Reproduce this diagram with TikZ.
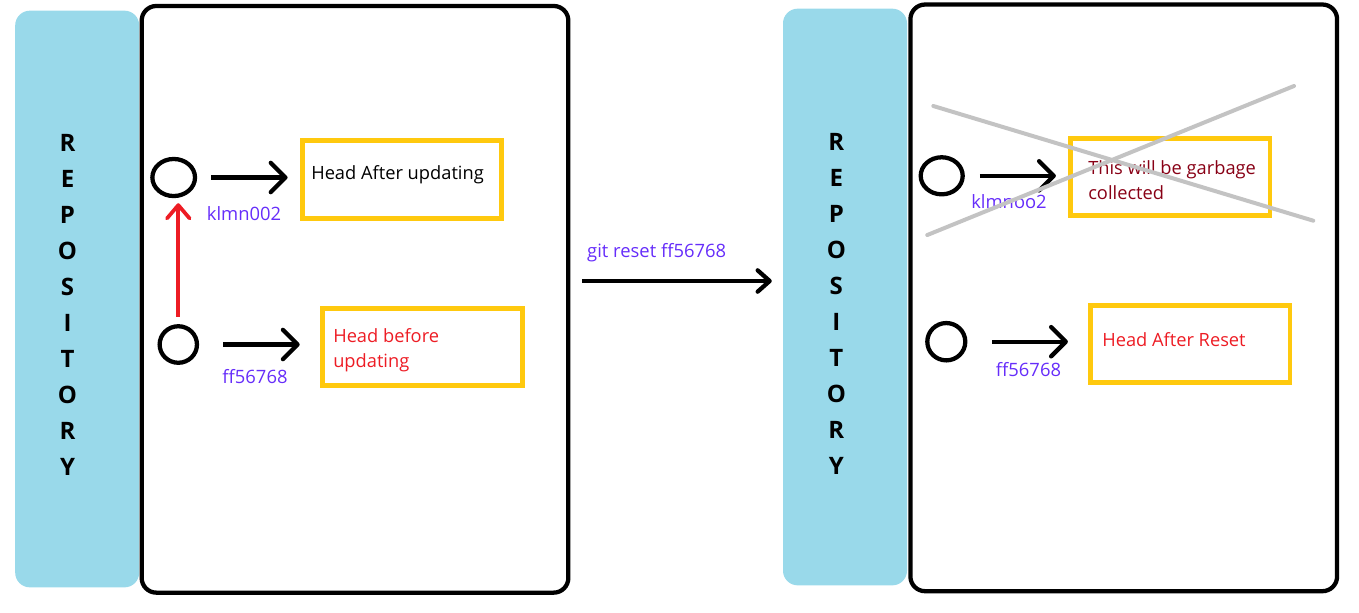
\documentclass[tikz,border=0pt]{standalone}
\usepackage{fontspec}
\setmainfont{Open Sans}
\usepackage{tikz}
\usetikzlibrary{arrows.meta}
\usetikzlibrary{shapes.geometric}
\definecolor{repoblue}{RGB}{153,217,234}
\definecolor{boxgold}{RGB}{255,201,14}
\definecolor{hashblue}{RGB}{102,45,250}
\definecolor{headred}{RGB}{237,28,36}
\definecolor{gcred}{RGB}{136,0,21}
\definecolor{crossgray}{RGB}{195,195,195}
\tikzset{every edge/.style={draw, line width=3.2pt}}
\tikzset{
  repo/.style={rectangle, fill=repoblue, rounded corners=11pt, inner sep=0pt,
    minimum width=93pt, minimum height=432.5pt},
  letters/.style={align=center, font=\fontsize{18}{27}\selectfont\bfseries},
  panel/.style={draw, line width=3.2pt, rounded corners=11pt, inner sep=0pt,
    minimum width=320pt, minimum height=440pt},
  commit/.style={draw, ellipse, line width=3.2pt, inner sep=0pt},
  headbox/.style={draw=boxgold, line width=3.7pt, inner sep=0pt,
    minimum width=149.5pt, minimum height=58pt},
  hash/.style={anchor=base, text=hashblue, inner sep=0pt, font=\fontsize{13.8}{17}\selectfont},
  note/.style={anchor=base west, align=left, inner sep=0pt, font=\fontsize{13.7}{18.75}\selectfont},
  ptr/.style={-{Straight Barb[length=11pt,width=22pt,round]}},
  upptr/.style={draw=headred, line width=2.8pt, -{Straight Barb[length=10pt,width=17pt,round]}},
  cross/.style={draw=crossgray, line width=3pt, line cap=round},
}

\begin{document}
\begin{tikzpicture}[x=0.75pt, y=-0.75pt]
  \useasboundingbox (0,0) rectangle (1359,612);

  \node[repo]   at (77.2, 299)     (repoL)    {};
  \node[letters] at (67.5, 304.7)  (repoLtxt) {R\\E\\P\\O\\S\\I\\T\\O\\R\\Y};
  \node[panel]  at (355, 299.3)    (panelL)   {};
  \node[repo]   at (845, 297)      (repoR)    {};
  \node[letters] at (836.3, 304)   (repoRtxt) {R\\E\\P\\O\\S\\I\\T\\O\\R\\Y};
  \node[panel]  at (1123.75, 297.85) (panelR) {};

  \node[commit, minimum width=32pt, minimum height=27.8pt]   at (173.7, 177.5) (newL) {};
  \node[commit, minimum width=28pt, minimum height=27.4pt]   at (178.3, 344.5) (oldL) {};
  \node[commit, minimum width=31.5pt, minimum height=27.8pt] at (941.7, 175.8) (newR) {};
  \node[commit, minimum width=28.5pt, minimum height=28pt]   at (946.3, 341.7) (oldR) {};

  \node[headbox]                      at (402, 179.5)    (afterL)  {};
  \node[headbox, minimum height=57.75pt] at (422.5, 346.7) (beforeL) {};
  \node[headbox]                      at (1170.3, 177.2) (gcR)     {};
  \node[headbox, minimum height=57.5pt] at (1190.3, 344.2) (resetR) {};

  % two-line notes sit on their last baseline
  \node[note]                at (311, 179)  (afterTxt)  {Head After updating};
  \node[note, text=headred]  at (333, 367)  (beforeTxt) {Head before\\updating};
  \node[note, text=gcred]    at (1088, 199) (gcTxt)     {This will be garbage\\collected};
  \node[note, text=headred]  at (1102, 346) (resetTxt)  {Head After Reset};

  \node[hash] at (244, 220)    (newLhash) {klmn002};
  \node[hash] at (255, 383)    (oldLhash) {ff56768};
  \node[hash] at (1009, 208)   (newRhash) {klmnoo2};
  \node[hash] at (1028.5, 376) (oldRhash) {ff56768};
  \node[hash] at (656.7, 257)  (resetCmd) {git reset ff56768};

  \coordinate (resetY) at (0, 281);

  \draw (newL) edge[ptr, shorten <=10.5pt, shorten >=9.2pt] (newL -| afterL.west);
  \draw (oldL) edge[ptr, shorten <=18pt, shorten >=15.5pt] (oldL -| beforeL.west);
  \draw (newR) edge[ptr, shorten <=11.2pt, shorten >=9.2pt] (newR -| gcR.west);
  \draw (oldR) edge[ptr, shorten <=18.5pt, shorten >=15.2pt] (oldR -| resetR.west);
  \draw (oldL) edge[upptr, shorten <=5.5pt, shorten >=3.8pt] (oldL |- newL.south);
  \draw (panelL.east |- resetY) edge[-{Straight Barb[length=9pt,width=16pt,round]},
    shorten <=8.7pt, shorten >=8.2pt] (repoR.west |- resetY);

  \draw[cross] (933.3, 106) -- (1313.3, 220.7);
  \draw[cross] (927.3, 235) -- (1294, 86);
\end{tikzpicture}
\end{document}
